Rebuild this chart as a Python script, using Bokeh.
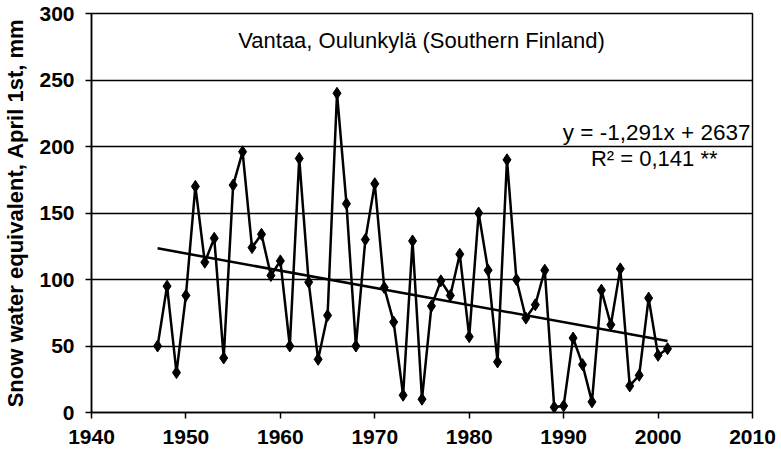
from bokeh.plotting import figure
from bokeh.models import Label, FixedTicker, Range1d
from bokeh.embed import file_html
from bokeh.resources import INLINE

years = list(range(1947, 2002))
swe = [50, 95, 30, 88, 170, 113, 131, 41, 171, 196, 124, 134, 103,
       114, 50, 191, 98, 40, 73, 240, 157, 50, 130, 172, 94, 68, 13, 129, 10,
       80, 99, 88, 119, 57, 150,
       107, 38, 190, 100, 71, 81, 107, 4, 5, 56, 36, 8, 92, 66, 108, 20, 28, 86, 43, 48]
slope = -1.291
intercept = 2637
title_text = "Vantaa, Oulunkylä (Southern Finland)"
eq_text = "y = -1,291x + 2637"
r2_text = "R² = 0,141 **"
x_ticks = [1940, 1950, 1960, 1970, 1980, 1990, 2000, 2010]
y_ticks = [0, 50, 100, 150, 200, 250, 300]

FONT = "Liberation Sans"

p = figure(width=781, height=457, output_backend="svg", toolbar_location=None,
           x_range=Range1d(1940, 2010), y_range=Range1d(0, 300),
           min_border_left=91, min_border_right=29, min_border_top=13, min_border_bottom=45)
p.background_fill_color = "white"
p.border_fill_color = "white"
p.outline_line_color = "black"
p.outline_line_width = 1.5

p.xgrid.grid_line_color = None
p.ygrid.grid_line_color = "black"
p.ygrid.grid_line_width = 1.5
p.ygrid.ticker = FixedTicker(ticks=y_ticks)

p.xaxis.ticker = FixedTicker(ticks=x_ticks)
p.yaxis.ticker = FixedTicker(ticks=y_ticks)
for ax in (p.xaxis[0], p.yaxis[0]):
    ax.axis_line_color = "black"
    ax.axis_line_width = 1.5
    ax.major_tick_line_color = "black"
    ax.major_tick_line_width = 1.5
    ax.major_tick_out = 6
    ax.major_tick_in = 0
    ax.minor_tick_line_color = None
    ax.major_label_text_font = FONT
    ax.major_label_text_font_style = "bold"
    ax.major_label_text_font_size = "21px"
    ax.major_label_text_color = "black"

p.xaxis.major_label_standoff = 11
p.yaxis.major_label_standoff = 11
p.yaxis.axis_label = "Snow water equivalent, April 1st, mm"
p.yaxis.axis_label_text_font = FONT
p.yaxis.axis_label_text_font_style = "bold"
p.yaxis.axis_label_text_font_size = "22px"
p.yaxis.axis_label_text_color = "black"
p.yaxis.axis_label_standoff = 8

p.line(years, swe, line_color="black", line_width=2.5)
p.scatter(years, swe, marker="diamond", size=12, fill_color="black", line_color="black")

trend_x = [years[0], years[-1]]
trend_y = [slope * x + intercept for x in trend_x]
p.line(trend_x, trend_y, line_color="black", line_width=2.5)

p.add_layout(Label(x=330, y=372, x_units="screen", y_units="screen", text=title_text,
                   text_font=FONT, text_font_size="22px", text_align="center",
                   text_baseline="middle", text_color="black"))
p.add_layout(Label(x=659, y=280, x_units="screen", y_units="screen", text=eq_text,
                   text_font=FONT, text_font_size="22.5px", text_align="right",
                   text_baseline="middle", text_color="black"))
p.add_layout(Label(x=626, y=254, x_units="screen", y_units="screen", text=r2_text,
                   text_font=FONT, text_font_size="22px", text_align="right",
                   text_baseline="middle", text_color="black"))

open("out.html", "w").write(file_html(p, INLINE))
